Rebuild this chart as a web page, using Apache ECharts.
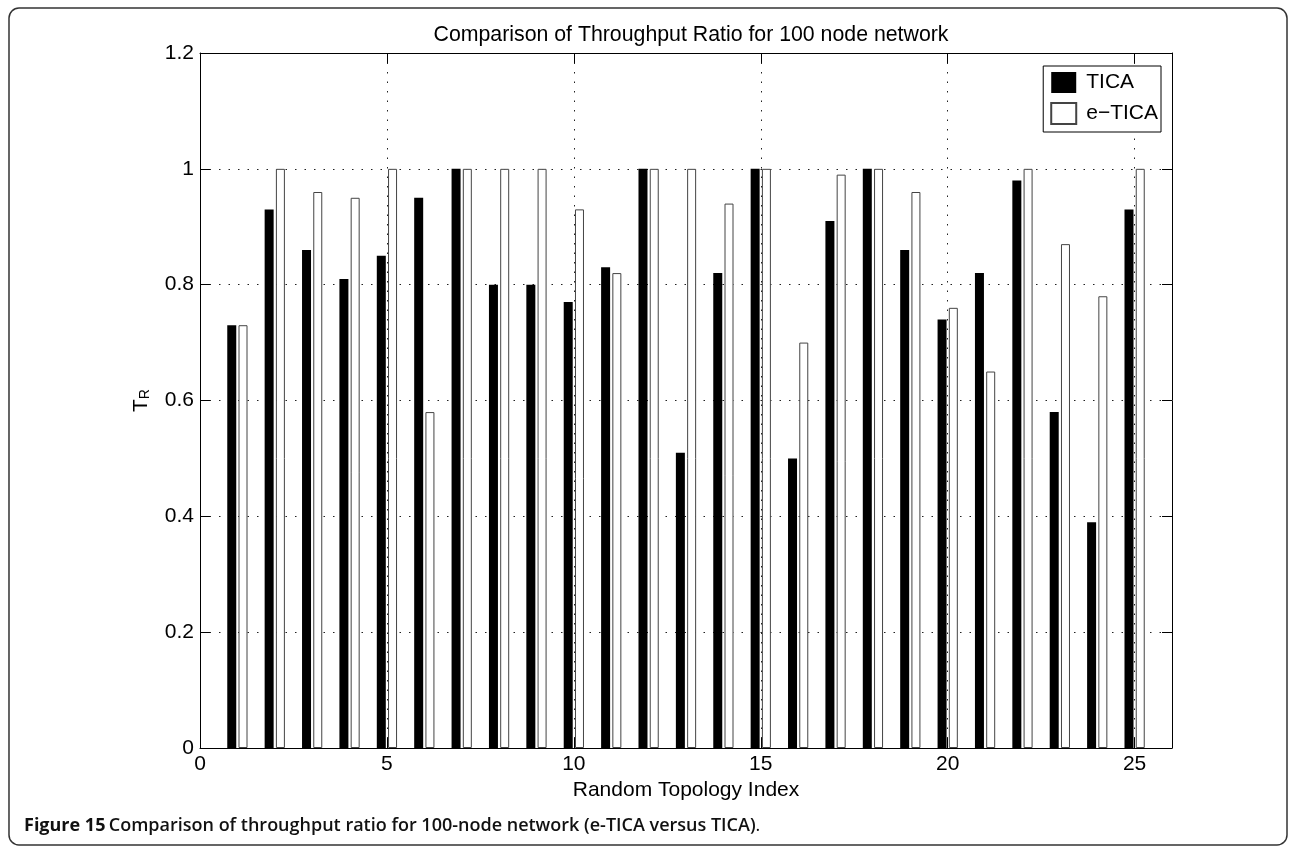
<!DOCTYPE html>
<html>
<head>
<meta charset="utf-8">
<script src="https://cdn.jsdelivr.net/npm/echarts@6/dist/echarts.min.js"></script>
<style>
html,body{margin:0;padding:0;background:#fff;}
#chart{width:1290px;height:847px;}
</style>
</head>
<body>
<div id="chart"></div>
<script>
// Data
const topologyIndex = [1,2,3,4,5,6,7,8,9,10,11,12,13,14,15,16,17,18,19,20,21,22,23,24,25];
const ticaValues  = [0.73,0.93,0.86,0.81,0.85,0.95,1.00,0.80,0.80,0.77,0.83,1.00,0.51,0.82,1.00,0.50,0.91,1.00,0.86,0.74,0.82,0.98,0.58,0.39,0.93];
const eticaValues = [0.73,1.00,0.96,0.95,1.00,0.58,1.00,1.00,1.00,0.93,0.82,1.00,1.00,0.94,1.00,0.70,0.99,1.00,0.96,0.76,0.65,1.00,0.87,0.78,1.00];
const xTicks = [0,5,10,15,20,25];
const yTicks = [0,0.2,0.4,0.6,0.8,1,1.2];

const FONT = '"Liberation Sans", Arial, Helvetica, sans-serif';
const CAPFONT = '"Open Sans", "Noto Sans", sans-serif';
const chart = echarts.init(document.getElementById('chart'), null, {renderer:'canvas'});

const gridLine = {show:true, lineStyle:{color:'#222', width:1, type:[1.5,8]}};
const option = {
  animation:false,
  backgroundColor:'#fff',
  title:{
    text:'Comparison of Throughput Ratio for 100 node network',
    left:686, top:20, textAlign:'center',
    textStyle:{fontFamily:FONT, fontSize:21.3, fontWeight:'normal', color:'#000'}
  },
  legend:{
    orient:'vertical', right:129, top:66,
    itemWidth:25, itemHeight:21, itemGap:9,
    padding:[6,3,7,7],
    borderColor:'#000', borderWidth:1, backgroundColor:'#fff',
    icon:'rect',
    textStyle:{fontFamily:FONT, fontSize:21, color:'#000', padding:[0,0,0,5]},
    data:['TICA','e\u2212TICA']
  },
  grid:{left:200, right:118, top:53, bottom:99, containLabel:false},
  xAxis:[{
    type:'value', min:0, max:26, interval:5, position:'bottom',
    name:'Random Topology Index', nameLocation:'middle', nameGap:26,
    nameTextStyle:{fontFamily:FONT, fontSize:21, color:'#000'},
    axisLine:{show:true, onZero:false, lineStyle:{color:'#000', width:1}},
    axisTick:{show:true, inside:true, length:10, lineStyle:{color:'#000'}},
    axisLabel:{fontFamily:FONT, fontSize:21, color:'#000', margin:6, showMaxLabel:false,
      formatter:function(v){return xTicks.indexOf(v)>=0 ? String(v) : '';}},
    splitLine:gridLine
  },{
    type:'value', min:0, max:26, interval:5, position:'top',
    axisLine:{show:true, onZero:false, lineStyle:{color:'#000', width:1}},
    axisTick:{show:true, inside:true, length:10, lineStyle:{color:'#000'}},
    axisLabel:{show:false}, splitLine:{show:false}
  }],
  yAxis:[{
    type:'value', min:0, max:1.2, interval:0.2, position:'left',
    name:'{t|T}{s|R}', nameLocation:'middle', nameGap:48, nameRotate:90,
    nameTextStyle:{color:'#000', rich:{
      t:{fontFamily:FONT, fontSize:21, lineHeight:21, verticalAlign:'top', color:'#000'},
      s:{fontFamily:FONT, fontSize:14, lineHeight:14, verticalAlign:'bottom', padding:[16,0,0,0], color:'#000'}
    }},
    axisLine:{show:true, onZero:false, lineStyle:{color:'#000', width:1}},
    axisTick:{show:true, inside:true, length:10, lineStyle:{color:'#000'}},
    axisLabel:{fontFamily:FONT, fontSize:21, color:'#000', margin:6,
      formatter:function(v){return String(Math.round(v*10)/10);}},
    splitLine:gridLine
  },{
    type:'value', min:0, max:1.2, interval:0.2, position:'right',
    axisLine:{show:true, onZero:false, lineStyle:{color:'#000', width:1}},
    axisTick:{show:true, inside:true, length:10, lineStyle:{color:'#000'}},
    axisLabel:{show:false}, splitLine:{show:false}
  }],
  series:[{
    name:'TICA', type:'bar', xAxisIndex:0, yAxisIndex:0,
    barWidth:9, barGap:'25%',
    itemStyle:{color:'#000', borderColor:'#000', borderWidth:0},
    data:topologyIndex.map((x,i)=>[x, ticaValues[i]])
  },{
    name:'e\u2212TICA', type:'bar', xAxisIndex:0, yAxisIndex:0,
    barWidth:9, barGap:'25%',
    itemStyle:{color:'#fff', borderColor:'#444', borderWidth:1},
    data:topologyIndex.map((x,i)=>[x, eticaValues[i]])
  }],
  graphic:[{
    type:'rect', silent:true, z:-1,
    shape:{x:9, y:8, width:1278, height:837, r:10},
    style:{fill:'none', stroke:'#333', lineWidth:1.5}
  },{
    type:'text', left:24, top:817, silent:true,
    style:{
      text:'{a|Figure 15} {b|Comparison of throughput ratio for 100-node network (e-TICA versus TICA)}{c|.}',
      rich:{
        a:{fontFamily:CAPFONT, fontSize:18, fontWeight:'bold', fill:'#111'},
        b:{fontFamily:CAPFONT, fontSize:18, fontWeight:600, fill:'#111'},
        c:{fontFamily:CAPFONT, fontSize:18, fontWeight:'normal', fill:'#111'}
      }
    }
  }]
};
chart.setOption(option);
</script>
</body>
</html>
